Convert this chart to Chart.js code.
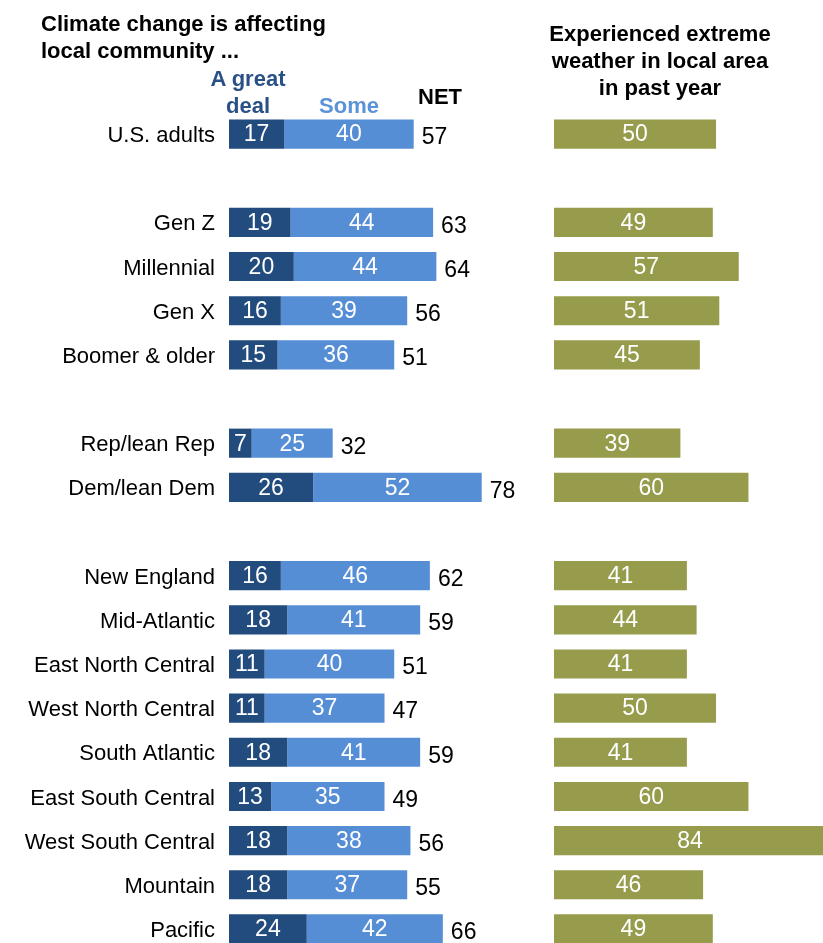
<!DOCTYPE html>
<html>
<head>
<meta charset="utf-8">
<script src="https://cdn.jsdelivr.net/npm/chart.js"></script>
<style>
  html, body { margin: 0; padding: 0; background: #fff; overflow: hidden; width: 823px; height: 943px; }
  #wrap { position: relative; width: 823px; height: 943px; font-family: "Liberation Sans", Arial, sans-serif; }
  canvas { position: absolute; top: 0; }
  #left { left: 0; }
  #right { left: 554px; }
  .t { position: absolute; font-weight: bold; font-size: 22px; line-height: 27px; white-space: nowrap; }
</style>
</head>
<body>
<div id="wrap">
  <canvas id="left" width="553" height="951"></canvas>
  <canvas id="right" width="269" height="951"></canvas>
  <div class="t" style="left:41px; top:10px; color:#000;">Climate change is affecting<br>local community ...</div>
  <div class="t" style="left:188px; top:65px; width:120px; text-align:center; color:#2a5186;">A great<br>deal</div>
  <div class="t" style="left:309px; top:92px; width:80px; text-align:center; color:#5b93d8;">Some</div>
  <div class="t" style="left:418px; top:83px; color:#000;">NET</div>
  <div class="t" style="left:530px; top:20px; width:260px; text-align:center; color:#000;">Experienced extreme<br>weather in local area<br>in past year</div>
</div>
<script>
// rows; empty strings are the spacer rows between groups
const categories = [
  "U.S. adults", "",
  "Gen Z", "Millennial", "Gen X", "Boomer & older", "",
  "Rep/lean Rep", "Dem/lean Dem", "",
  "New England", "Mid-Atlantic", "East North Central", "West North Central",
  "South Atlantic", "East South Central", "West South Central", "Mountain", "Pacific"
];
const greatDeal = [17, null, 19, 20, 16, 15, null, 7, 26, null, 16, 18, 11, 11, 18, 13, 18, 18, 24];
const some      = [40, null, 44, 44, 39, 36, null, 25, 52, null, 46, 41, 40, 37, 41, 35, 38, 37, 42];
const net       = [57, null, 63, 64, 56, 51, null, 32, 78, null, 62, 59, 51, 47, 59, 49, 56, 55, 66];
const extremeWeather = [50, null, 49, 57, 51, 45, null, 39, 60, null, 41, 44, 41, 50, 41, 60, 84, 46, 49];

const FONT = "Liberation Sans, Arial, sans-serif";
Chart.defaults.font.family = FONT;
Chart.defaults.animation = false;

// writes the numbers inside the bars, and the NET total after the stack
const barLabels = {
  id: "barLabels",
  afterDatasetsDraw(chart, args, opts) {
    const ctx = chart.ctx;
    ctx.save();
    ctx.font = "23px " + FONT;
    ctx.textBaseline = "middle";
    chart.data.datasets.forEach((ds, i) => {
      const meta = chart.getDatasetMeta(i);
      meta.data.forEach((bar, j) => {
        if (ds.data[j] == null) return;
        ctx.fillStyle = "#fff";
        ctx.textAlign = "center";
        ctx.fillText(ds.data[j], (bar.x + bar.base) / 2, bar.y + 1);
      });
    });
    if (opts.totals) {
      const last = chart.getDatasetMeta(chart.data.datasets.length - 1);
      last.data.forEach((bar, j) => {
        if (opts.totals[j] == null) return;
        ctx.fillStyle = "#000";
        ctx.textAlign = "left";
        ctx.fillText(opts.totals[j], bar.x + 8, bar.y + 4);
      });
    }
    ctx.restore();
  }
};

const common = {
  indexAxis: "y",
  responsive: false,
  layout: { padding: { top: 112, bottom: 0, left: 0, right: 0 } },
  plugins: { legend: { display: false }, tooltip: { enabled: false } }
};

new Chart(document.getElementById("left").getContext("2d"), {
  type: "bar",
  data: {
    labels: categories,
    datasets: [
      { label: "A great deal", data: greatDeal, backgroundColor: "#224b7e",
        barPercentage: 0.66, categoryPercentage: 1 },
      { label: "Some", data: some, backgroundColor: "#568ed6",
        barPercentage: 0.66, categoryPercentage: 1 }
    ]
  },
  options: {
    ...common,
    plugins: { ...common.plugins, barLabels: { totals: net } },
    scales: {
      x: { stacked: true, min: 0, max: 100, display: false },
      y: {
        stacked: true,
        grid: { display: false, drawTicks: false },
        border: { display: false },
        ticks: { color: "#000", font: { size: 22 }, padding: 14, labelOffset: 2, autoSkip: false },
        afterFit(scale) {
          scale.width = 229;
          // keep rows lined up with the right-hand panel
          scale.paddingTop = 0;
          scale.paddingBottom = 0;
        }
      }
    }
  },
  plugins: [barLabels]
});

new Chart(document.getElementById("right").getContext("2d"), {
  type: "bar",
  data: {
    labels: categories,
    datasets: [
      { label: "Experienced extreme weather", data: extremeWeather, backgroundColor: "#969c4b",
        barPercentage: 0.66, categoryPercentage: 1 }
    ]
  },
  options: {
    ...common,
    scales: {
      x: { min: 0, max: 83, display: false },
      y: { display: false }
    }
  },
  plugins: [barLabels]
});
</script>
</body>
</html>
